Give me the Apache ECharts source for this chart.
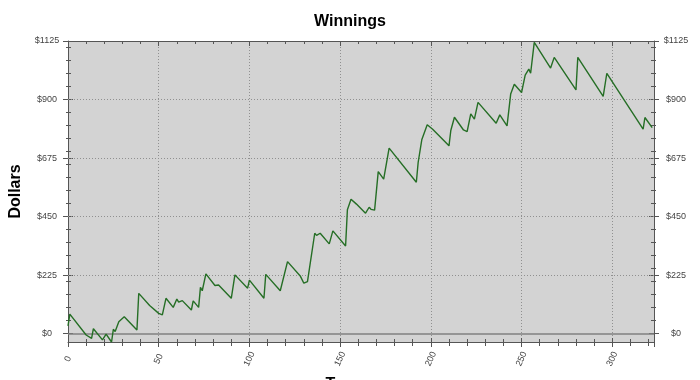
<!DOCTYPE html>
<html><head><meta charset="utf-8">
<script src="https://cdn.jsdelivr.net/npm/echarts@6/dist/echarts.min.js"></script>
<style>html,body{margin:0;padding:0;background:#fff}#c{width:700px;height:380px}</style>
</head><body><div id="c"></div>
<script>
// Vertices of the cumulative winnings line (trial number, dollars)
const trials = [0,1,10,13,14,19,21,24,25,26,28,29,31,38,39,45,50,51,52,54,58,60,61,63,68,69,72,73,74,76,81,82,83,90,92,99,100,108,109,117,118,121,128,130,132,133,136,137,139,144,146,153,154,155,156,159,164,166,167,168,169,170,171,174,175,177,192,193,194,195,196,198,201,210,211,213,218,220,222,224,226,236,238,242,244,246,250,252,253,254,255,257,266,268,280,281,295,297,317,318,322];
const dollars = [30,75,-5,-18,19,-24,-2,-32,17,8,46,44,65,14,155,108,78,85,72,136,101,133,121,127,91,126,101,178,165,230,185,180,187,136,226,175,206,136,228,165,158,277,222,194,200,194,386,378,386,345,395,337,476,472,517,498,463,486,478,482,475,480,623,594,598,713,582,658,660,745,740,803,786,722,781,832,783,777,845,825,889,809,841,799,921,959,927,994,988,1017,1001,1120,1021,1062,937,1062,912,1001,786,831,792];
const yTickValues = [0,225,450,675,900,1125];
const yGridValues = [225,450,675,900];
const yMinorValues = [0,50,100,150,200,250,300,350,400,450,500,550,600,650,700,750,800,850,900,950,1000,1050,1100];
const xTickStep = 50;
const xMinorStep = 10;
const yRange = [-32, 1125];
const xRange = [0, 323];
const titleText = 'Winnings';
const yName = 'Dollars';
const xName = 'Tourneys';

const axisColor = '#555';
const FONT = 'Liberation Sans, Arial, sans-serif';
const dottedStyle = {color:'#909090', type:[1,2], width:1};

const yBase = {min:yRange[0], max:yRange[1]};
const xBase = {min:xRange[0], max:xRange[1]};
const yFmt = v => '$' + v;
const xFmt = v => (v % xTickStep === 0 ? String(v) : '');

function yTickAxis(position, values, offset, len) {
  return Object.assign({
    type:'value', position, offset,
    axisLine:{show:false, onZero:false},
    axisTick:{show:true, inside:true, length:len, customValues:values, lineStyle:{color:axisColor}},
    axisLabel:{show:false}, splitLine:{show:false}
  }, yBase);
}
function xTickAxis(position, interval, offset, len) {
  return Object.assign({
    type:'value', position, interval, offset,
    axisLine:{show:false, onZero:false},
    axisTick:{show:true, inside:true, length:len, lineStyle:{color:axisColor}},
    axisLabel:{show:false}, splitLine:{show:false}
  }, xBase);
}
function yMainAxis(position, margin, withName) {
  const a = Object.assign({type:'value', position,
    axisLine:{show:true, onZero:false, lineStyle:{color:axisColor}},
    axisTick:{show:false},
    axisLabel:{customValues:yTickValues, formatter:yFmt, margin, align:'center', fontSize:9, color:'#444', fontFamily:FONT},
    splitLine:{show:false}}, yBase);
  if (withName) {
    a.name = yName; a.nameLocation = 'middle'; a.nameGap = 39;
    a.nameTextStyle = {fontSize:16, fontWeight:'bold', color:'#000', fontFamily:FONT};
  }
  return a;
}

const yAxes = [
  yMainAxis('left', 21, true),
  yTickAxis('left', yTickValues, 5, 10),
  yTickAxis('left', yMinorValues, 2, 5),
  yMainAxis('right', 22, false),
  yTickAxis('right', yTickValues, 5, 10),
  yTickAxis('right', yMinorValues, 2, 5)
];

const xAxes = [
  Object.assign({type:'value', position:'bottom', interval:xTickStep,
    axisLine:{show:true, onZero:false, lineStyle:{color:axisColor}},
    axisTick:{show:false},
    axisLabel:{formatter:xFmt, rotate:65, margin:17, align:'center', verticalAlign:'middle', fontSize:9, color:'#444', fontFamily:FONT},
    splitLine:{show:true, lineStyle:dottedStyle},
    name:xName, nameLocation:'middle', nameGap:35,
    nameTextStyle:{fontSize:16, fontWeight:'bold', color:'#000', fontFamily:FONT}}, xBase),
  xTickAxis('bottom', xTickStep, 5, 9),
  xTickAxis('bottom', xMinorStep, 4, 7),
  Object.assign({type:'value', position:'top', interval:xMinorStep,
    axisLine:{show:true, onZero:false, lineStyle:{color:axisColor}},
    axisTick:{show:true, inside:true, length:3, lineStyle:{color:axisColor}},
    axisLabel:{show:false}, splitLine:{show:false}}, xBase),
  xTickAxis('top', xTickStep, 0, 5)
];

const gridLines = yGridValues.map(v => ({yAxis:v, lineStyle:dottedStyle}));
gridLines.push({yAxis:0, lineStyle:{color:'#808080', type:'solid', width:1.5}});

const chart = echarts.init(document.getElementById('c'), null, {renderer:'canvas'});
chart.setOption({
  animation:false,
  backgroundColor:'#fff',
  title:{text:titleText, left:'center', top:9,
    textStyle:{fontSize:16, fontWeight:'bold', color:'#000', fontFamily:FONT}},
  grid:{left:68, right:46, top:41, bottom:38, show:true, backgroundColor:'#d3d3d3', borderWidth:0,
    containLabel:false, outerBoundsMode:'none'},
  xAxis:xAxes,
  yAxis:yAxes,
  series:[{
    type:'line', xAxisIndex:0, yAxisIndex:0,
    data:trials.map((t,i)=>[t, dollars[i]]),
    showSymbol:false, symbol:'none',
    lineStyle:{color:'#256e25', width:1.4},
    markLine:{silent:true, symbol:['none','none'], label:{show:false}, data:gridLines, z:1},
    z:3
  }]
});
</script></body></html>
